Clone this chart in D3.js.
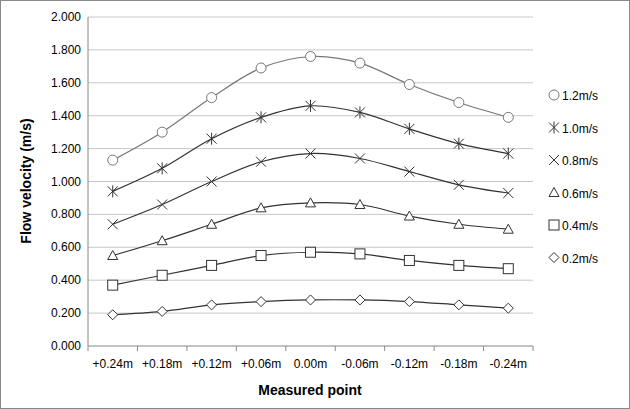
<!DOCTYPE html>
<html><head><meta charset="utf-8">
<script src="https://cdn.jsdelivr.net/npm/d3@7"></script>
<style>body{margin:0;background:#fff}svg{display:block}</style>
</head><body><svg id="c" width="630" height="409"></svg>
<script>
const points = ["+0.24m","+0.18m","+0.12m","+0.06m","0.00m","-0.06m","-0.12m","-0.18m","-0.24m"];
const yTicks = [0,0.2,0.4,0.6,0.8,1.0,1.2,1.4,1.6,1.8,2.0];
const s12 = [1.13,1.30,1.51,1.69,1.76,1.72,1.59,1.48,1.39];
const s10 = [0.94,1.08,1.26,1.39,1.46,1.42,1.32,1.23,1.17];
const s08 = [0.74,0.86,1.00,1.12,1.17,1.14,1.06,0.98,0.93];
const s06 = [0.55,0.64,0.74,0.84,0.87,0.86,0.79,0.74,0.71];
const s04 = [0.37,0.43,0.49,0.55,0.57,0.56,0.52,0.49,0.47];
const s02 = [0.19,0.21,0.25,0.27,0.28,0.28,0.27,0.25,0.23];
const series = [
  {name:"1.2m/s", vals:s12, m:"circle", color:"#777"},
  {name:"1.0m/s", vals:s10, m:"star", color:"#333"},
  {name:"0.8m/s", vals:s08, m:"cross", color:"#333"},
  {name:"0.6m/s", vals:s06, m:"tri", color:"#333"},
  {name:"0.4m/s", vals:s04, m:"square", color:"#333"},
  {name:"0.2m/s", vals:s02, m:"diamond", color:"#333"}
];

const svg = d3.select("#c");
svg.append("rect").attr("x",0.5).attr("y",0.5).attr("width",629).attr("height",408)
  .attr("fill","#fff").attr("stroke","#888");
const L=88, R=533, T=17, B=346;
const x = d3.scalePoint().domain(points).range([L,R]).padding(0.5);
const y = d3.scaleLinear().domain([0,2]).range([B,T]);

const g = svg.append("g");
g.selectAll(".grid").data(yTicks).enter().append("line")
  .attr("x1",L).attr("x2",R).attr("y1",d=>y(d)).attr("y2",d=>y(d))
  .attr("stroke",d=>d===0?"#888":"#c8c8c8");
g.append("line").attr("x1",L).attr("x2",L).attr("y1",T).attr("y2",B).attr("stroke","#888");
g.selectAll(".yt").data(yTicks).enter().append("text")
  .attr("x",L-7).attr("y",d=>y(d)+4).attr("text-anchor","end")
  .attr("font-family","Liberation Sans, Arial").attr("font-size",12).text(d=>d.toFixed(3));
const xt = d3.scalePoint().domain(points).range([L,R]);
g.selectAll(".xtick").data(d3.range(points.length+1)).enter().append("line")
  .attr("x1",i=>L+i*(R-L)/points.length).attr("x2",i=>L+i*(R-L)/points.length)
  .attr("y1",B).attr("y2",B+5).attr("stroke","#888");
g.selectAll(".xl").data(points).enter().append("text")
  .attr("x",d=>x(d)).attr("y",B+22).attr("text-anchor","middle")
  .attr("font-family","Liberation Sans, Arial").attr("font-size",12).text(d=>d);
svg.append("text").attr("x",310).attr("y",395).attr("text-anchor","middle")
  .attr("font-family","Liberation Sans, Arial").attr("font-weight","bold").attr("font-size",14).text("Measured point");
svg.append("text").attr("transform","translate(31,181) rotate(-90)").attr("text-anchor","middle")
  .attr("font-family","Liberation Sans, Arial").attr("font-weight","bold").attr("font-size",14).text("Flow velocity (m/s)");

function marker(sel, type, color){
  const r=5;
  if(type==="circle") sel.append("circle").attr("r",r).attr("fill","#fff").attr("stroke",color);
  if(type==="square") sel.append("rect").attr("x",-r).attr("y",-r).attr("width",2*r).attr("height",2*r).attr("fill","#fff").attr("stroke",color);
  if(type==="tri") sel.append("path").attr("d",`M0,${-r}L${r},${r-1}L${-r},${r-1}Z`).attr("fill","#fff").attr("stroke",color);
  if(type==="diamond") sel.append("path").attr("d",`M0,${-r}L${r},0L0,${r}L${-r},0Z`).attr("fill","#fff").attr("stroke",color);
  if(type==="cross"||type==="star") sel.append("path").attr("d",`M${-r},${-r}L${r},${r}M${-r},${r}L${r},${-r}`).attr("stroke",color);
  if(type==="star") sel.append("path").attr("d",`M0,${-r-1}L0,${r+1}`).attr("stroke",color);
}

const line = d3.line().x((d,i)=>x(points[i])).y(d=>y(d)).curve(d3.curveCatmullRom.alpha(0.5));
series.forEach((s,k)=>{
  svg.append("path").attr("d",line(s.vals)).attr("fill","none").attr("stroke",s.color).attr("stroke-width",1.2);
  s.vals.forEach((v,i)=>{
    const mg = svg.append("g").attr("transform",`translate(${x(points[i])},${y(v)})`);
    marker(mg,s.m,s.color);
  });
  const ly = 95 + k*32.5;
  const lg = svg.append("g").attr("transform",`translate(554,${ly})`);
  marker(lg,s.m,s.color);
  svg.append("text").attr("x",562).attr("y",ly+5).attr("font-family","Liberation Sans, Arial")
    .attr("font-size",12).text(s.name);
});
</script></body></html>
